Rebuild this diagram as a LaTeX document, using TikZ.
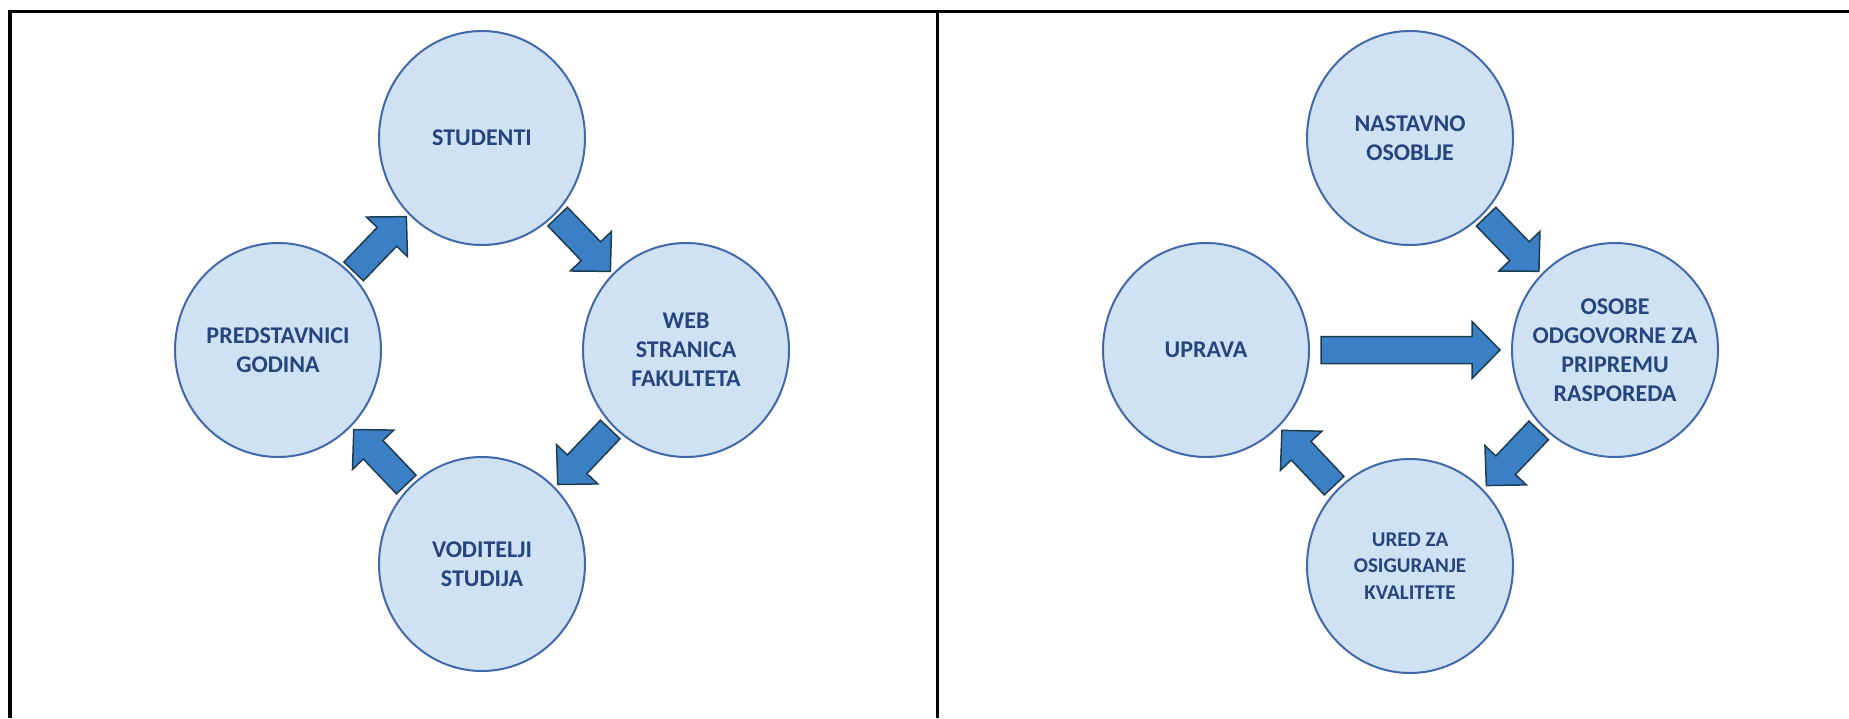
\documentclass[tikz,border=0pt]{standalone}
\usepackage{fontspec}
\setmainfont{Carlito}
\usepackage{tikz}
\usetikzlibrary{calc}
\usetikzlibrary{shapes.geometric}
\definecolor{circfill}{RGB}{207,226,243}
\definecolor{circline}{RGB}{65,105,170}
\definecolor{txtblue}{RGB}{38,68,125}
\definecolor{arrfill}{RGB}{59,128,196}
\definecolor{arrline}{RGB}{30,60,80}
\tikzset{
	bubble/.style={draw=circline,line width=2pt,fill=circfill,ellipse,minimum width=206pt,minimum height=214pt,inner xsep=-15pt,inner ysep=0pt,align=center,text=txtblue,font=\bfseries\fontsize{24}{29}\selectfont},
	blockarr/.style={draw=arrline,line width=1.5pt,fill=arrfill,line join=miter}
}
\newcommand{\blockarrow}[3]{%
	\path($(#1)!0.5!(#2)$)coordinate(bam)
		($(bam)!#3!(#1)$)coordinate(bat)
		($(bam)!#3!(#2)$)coordinate(bah)
		($(bah)!28pt!(bam)$)coordinate(ban);
	\draw[blockarr]($(bat)!13.5pt!90:(bah)$)--($(ban)!13.5pt!90:(bah)$)--($(ban)!28.5pt!90:(bah)$)--(bah)
		--($(ban)!28.5pt!-90:(bah)$)--($(ban)!13.5pt!-90:(bah)$)--($(bat)!13.5pt!-90:(bah)$)--cycle;
}

\begin{document}
\begin{tikzpicture}[x=1pt,y=-1pt]
	\useasboundingbox(0,0)rectangle(1849,718);
	\draw[line width=3.3pt](10,718)--(10,11.5)--(1849,11.5);
	\draw[line width=3.3pt](937.7,11.5)--(937.7,718);
	\node[bubble](studenti)at(482,138){STUDENTI};
	\node[bubble](web)at(686,350){WEB\\STRANICA\\FAKULTETA};
	\node[bubble](voditelji)at(482,564){VODITELJI\\STUDIJA};
	\node[bubble](predstavnici)at(278,350){PREDSTAVNICI\\GODINA};
	\node[bubble](nastavno)at(1410,138){NASTAVNO\\OSOBLJE};
	\node[bubble](uprava)at(1206,350){UPRAVA};
	\node[bubble](osobe)at(1615,350){OSOBE\\ODGOVORNE ZA\\PRIPREMU\\RASPOREDA};
	\node[bubble,font=\bfseries\fontsize{21}{26.5}\selectfont](ured)at(1410,566){URED ZA\\OSIGURANJE\\KVALITETE};
	\blockarrow{predstavnici}{studenti}{38pt}
	\blockarrow{studenti}{web}{38pt}
	\blockarrow{web}{voditelji}{38pt}
	\blockarrow{voditelji}{predstavnici}{38pt}
	\blockarrow{nastavno}{osobe}{38pt}
	\blockarrow{osobe}{ured}{38pt}
	\blockarrow{ured}{uprava}{38pt}
	\blockarrow{uprava}{osobe}{89.5pt}
\end{tikzpicture}
\end{document}
